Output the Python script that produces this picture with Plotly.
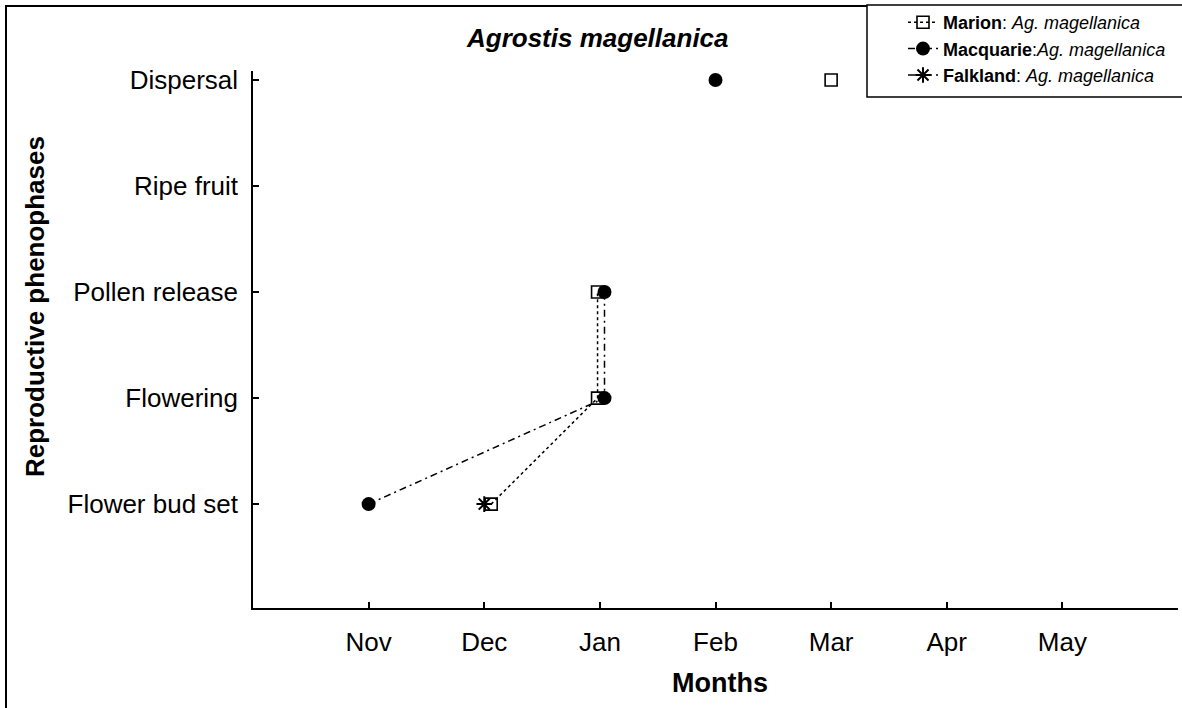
import plotly.graph_objects as go

# ---- data ----
phases = ["Flower bud set", "Flowering", "Pollen release", "Ripe fruit", "Dispersal"]
phase_pos = [1, 2, 3, 4, 5]
months = ["Nov", "Dec", "Jan", "Feb", "Mar", "Apr", "May"]
month_pos = [1, 2, 3, 4, 5, 6, 7]

marion_x = [2.06, 2.98, 2.98, None, 5.0]
macquarie_x = [1.0, 3.04, 3.04, None, 4.0]
falkland_x = [2.0, None, None, None, None]

FONT = "Liberation Sans, Arial, sans-serif"

fig = go.Figure()
fig.add_trace(go.Scatter(
    x=marion_x, y=phase_pos, mode="lines+markers",
    name="<b>Marion</b>: <i>Ag. magellanica</i>",
    line=dict(color="black", width=1.5, dash="dot"),
    marker=dict(symbol="square-open", size=12, color="black", line=dict(width=1.6, color="black")),
    connectgaps=False,
))
fig.add_trace(go.Scatter(
    x=macquarie_x, y=phase_pos, mode="lines+markers",
    name="<b>Macquarie</b>:<i>Ag. magellanica</i>",
    line=dict(color="black", width=1.5, dash="7px,4px,2px,4px"),
    marker=dict(symbol="circle", size=14, color="black"),
    connectgaps=False,
))
fig.add_trace(go.Scatter(
    x=falkland_x, y=phase_pos, mode="lines+markers",
    name="<b>Falkland</b>: <i>Ag. magellanica</i>",
    line=dict(color="black", width=1.5, dash="7px,4px,2px,4px"),
    marker=dict(symbol="asterisk-open", size=13, color="black", line=dict(width=2, color="black")),
    connectgaps=False,
))

L, R, T, B = 253, 4, 71, 100
W, H = 1182, 708
pw, ph = W - L - R, H - T - B

def px(x):
    return (x - L) / pw

def py(y):
    return (H - B - y) / ph

fig.update_layout(
    width=W, height=H,
    margin=dict(l=L, r=R, t=T, b=B, autoexpand=False),
    paper_bgcolor="white", plot_bgcolor="white",
    font=dict(family=FONT, color="black"),
    showlegend=True,
    legend=dict(
        x=px(903), y=py(4), xanchor="left", yanchor="top",
        bgcolor="rgba(0,0,0,0)", borderwidth=0,
        font=dict(size=18, family=FONT, color="black"),
        itemwidth=30, tracegroupgap=0,
    ),
    xaxis=dict(
        range=[0, 8], tickvals=month_pos, ticktext=months,
        showgrid=False, zeroline=False, showline=True, linecolor="black", linewidth=1.5,
        ticks="inside", ticklen=6, tickwidth=1.5, tickcolor="black",
        tickfont=dict(size=26, family=FONT, color="black"),
        ticklabelstandoff=10, mirror=False,
    ),
    yaxis=dict(
        range=[0.02, 5.085], tickvals=phase_pos, ticktext=phases,
        showgrid=False, zeroline=False, showline=True, linecolor="black", linewidth=1.5,
        ticks="inside", ticklen=6, tickwidth=1.5, tickcolor="black",
        tickfont=dict(size=26, family=FONT, color="black"),
        ticklabelstandoff=8, mirror=False,
    ),
    shapes=[
        dict(type="rect", xref="paper", yref="paper",
             x0=px(6), x1=px(1190), y0=py(6), y1=py(720),
             line=dict(color="black", width=2), fillcolor="rgba(0,0,0,0)", layer="below"),
        dict(type="rect", xref="paper", yref="paper",
             x0=px(867), x1=px(1190), y0=py(5), y1=py(97),
             line=dict(color="black", width=1.5), fillcolor="white", layer="above"),
    ],
    annotations=[
        dict(text="<b><i>Agrostis magellanica</i></b>", xref="paper", yref="paper",
             x=px(597), y=py(38), xanchor="center", yanchor="middle", showarrow=False,
             font=dict(size=26, family=FONT, color="black")),
        dict(text="<b>Months</b>", xref="paper", yref="paper",
             x=px(720), y=py(683), xanchor="center", yanchor="middle", showarrow=False,
             font=dict(size=27, family=FONT, color="black")),
        dict(text="<b>Reproductive phenophases</b>", xref="paper", yref="paper",
             x=px(35), y=py(307), xanchor="center", yanchor="middle", showarrow=False,
             textangle=-90, font=dict(size=26, family=FONT, color="black")),
    ],
)

fig.write_html("out.html", config={"displayModeBar": False},
               post_script="document.body.style.margin='0px';")
